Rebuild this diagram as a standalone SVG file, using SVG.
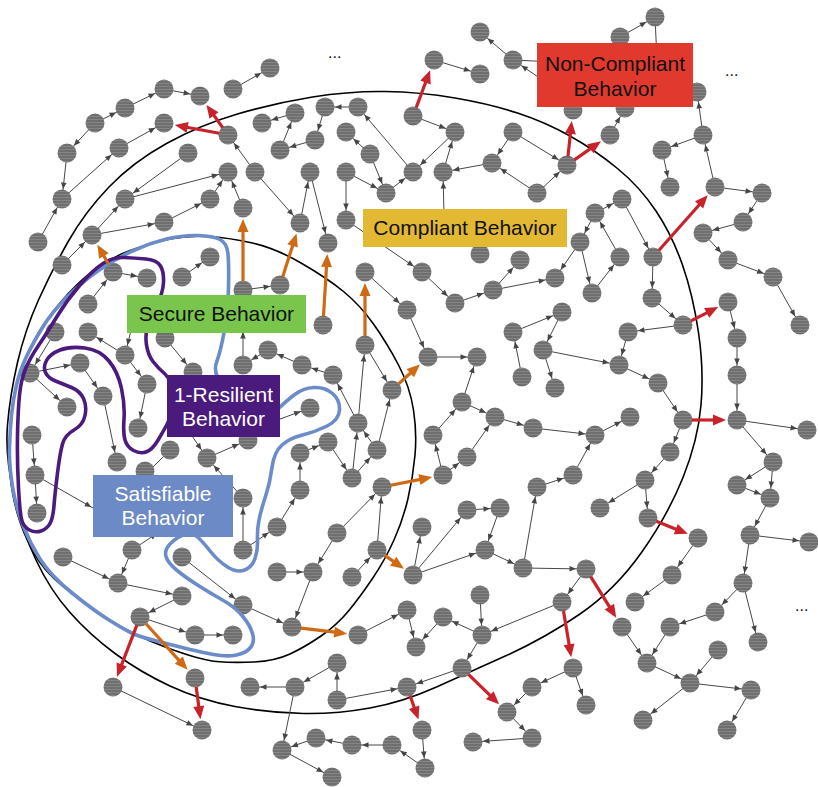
<svg xmlns="http://www.w3.org/2000/svg" width="818" height="787" viewBox="0 0 818 787">
<defs>
<pattern id="st" width="6" height="3" patternUnits="userSpaceOnUse"><rect width="6" height="3" fill="#6f6f6f"/><rect y="2" width="6" height="1" fill="#858585"/></pattern>
<marker id="a" markerUnits="userSpaceOnUse" markerWidth="10" markerHeight="10" refX="10" refY="0" orient="auto" overflow="visible" style="overflow:visible"><path d="M-6.5,-2.8L0,0L-6.5,2.8Z" fill="#454545"/></marker>
<marker id="r" markerUnits="userSpaceOnUse" markerWidth="14" markerHeight="12" refX="0" refY="0" orient="auto" overflow="visible" style="overflow:visible"><path d="M-5,-5.5L8,0L-5,5.5Z" fill="#c8232b"/></marker>
<marker id="o" markerUnits="userSpaceOnUse" markerWidth="14" markerHeight="12" refX="0" refY="0" orient="auto" overflow="visible" style="overflow:visible"><path d="M-5,-5.5L8,0L-5,5.5Z" fill="#cf6914"/></marker>
<style>
.n circle{fill:url(#st)}
.e path{fill:none;stroke:#474747;stroke-width:1;marker-end:url(#a)}
.red path{fill:none;stroke:#c8232b;stroke-width:3.2;marker-end:url(#r)}
.org path{fill:none;stroke:#cf6914;stroke-width:3.2;marker-end:url(#o)}
.ring{fill:none;stroke:#000;stroke-width:1.6}
.t{font-family:"Liberation Sans",Arial,Helvetica,sans-serif;font-size:21px;text-anchor:middle}
.dots{font-family:"Liberation Sans",Arial,sans-serif;font-size:16px;fill:#111}
</style>
</defs>
<rect width="818" height="787" fill="#fff"/>
<g id="regions">
<path class="ring" d="M7.5,425 Q10,395 17.5,362.5 Q25,330 38.5,300 Q52,270 68.5,241 Q85,212 109,187 Q133,162 166.5,143.5 Q200,125 237.5,114 Q275,103 312.5,97 Q350,91 385,91.5 Q420,92 455,98 Q490,104 517.5,113 Q545,122 570,136 Q595,150 617.5,168.5 Q640,187 656,211 Q672,235 682.5,265 Q693,295 698.5,332.5 Q704,370 701,405 Q698,440 683,477.5 Q668,515 641.5,552.5 Q615,590 580,614 Q545,638 507.5,655 Q470,672 436.5,687 Q403,702 370,708 Q337,714 303.5,713.5 Q270,713 235,706.5 Q200,700 170,686 Q140,672 115,653.5 Q90,635 70,612.5 Q50,590 36,560 Q22,530 13.5,492.5 Q5,455 7.5,425 Z"/>
<path class="ring" d="M10.5,430 Q12,400 18,380 Q24,360 33.5,341.5 Q43,323 60,303 Q77,283 93.5,270.5 Q110,258 130,250.5 Q150,243 170,239 Q190,235 210,236.5 Q230,238 252.5,243 Q275,248 301,263 Q327,278 343.5,291.5 Q360,305 373.5,324 Q387,343 398.5,365 Q410,387 413.5,410 Q417,433 415,455 Q413,477 408,498.5 Q403,520 394,540 Q385,560 372.5,578.5 Q360,597 348.5,611 Q337,625 321,636 Q305,647 290,654 Q275,661 254,662 Q233,663 216.5,661.5 Q200,660 166.5,647.5 Q133,635 108,619 Q83,603 63,586.5 Q43,570 33,551.5 Q23,533 17.5,514 Q12,495 10.5,477.5 Q9,460 10.5,430 Z"/>
</g>
<g id="connectors" class="e">
<path d="M233 89L270 68"/><path d="M164 89L200 96"/><path d="M125 108L164 89"/><path d="M95 123L125 108"/><path d="M95 123L67 153"/><path d="M67 153L62 199"/><path d="M38 242L62 199"/><path d="M119 148L164 123"/><path d="M62 199L119 148"/><path d="M188 153L125 199"/><path d="M125 199L228 172"/><path d="M255 172L228 135"/><path d="M210 199L228 172"/><path d="M243 208L228 172"/><path d="M92 235L125 199"/><path d="M92 235L164 222"/><path d="M164 222L210 199"/><path d="M62 265L92 235"/><path d="M88 304L113 272"/><path d="M113 272L147 278"/><path d="M182 277L210 257"/><path d="M125 355L88 332"/><path d="M55 332L30 373"/><path d="M30 373L80 363"/><path d="M30 373L67 407"/><path d="M80 363L103 396"/><path d="M125 355L147 384"/><path d="M147 384L138 428"/><path d="M165 338L193 372"/><path d="M103 396L117 462"/><path d="M243 365L243 322"/><path d="M268 350L243 365"/><path d="M243 290L280 285"/><path d="M35 475L37 513"/><path d="M32 435L35 475"/><path d="M35 475L100 512"/><path d="M207 458L248 440"/><path d="M188 430L207 458"/><path d="M243 498L207 458"/><path d="M133 322L125 355"/><path d="M170 450L140 480"/>
<path d="M295 113L262 123"/><path d="M280 150L295 113"/><path d="M358 107L325 107"/><path d="M325 107L315 140"/><path d="M315 140L280 150"/><path d="M370 154L346 132"/><path d="M300 223L310 172"/><path d="M310 172L328 243"/><path d="M255 172L300 223"/><path d="M346 172L346 220"/><path d="M346 172L386 193"/><path d="M370 154L386 193"/><path d="M386 193L413 172"/><path d="M413 172L358 107"/><path d="M455 132L413 172"/><path d="M413 116L455 132"/><path d="M443 172L455 132"/><path d="M492 163L443 172"/><path d="M513 132L492 163"/><path d="M537 193L492 163"/><path d="M513 132L567 165"/><path d="M537 193L567 165"/><path d="M434 60L480 74"/><path d="M513 60L480 32"/><path d="M513 60L555 62"/><path d="M550 85L513 60"/><path d="M346 220L422 272"/><path d="M444 215L443 172"/>
<path d="M365 272L407 310"/><path d="M422 272L455 303"/><path d="M455 303L493 290"/><path d="M493 290L520 260"/><path d="M493 290L555 278"/><path d="M407 310L428 357"/><path d="M428 357L477 357"/><path d="M302 365L268 350"/><path d="M333 375L302 365"/><path d="M358 423L365 345"/><path d="M358 423L333 375"/><path d="M377 450L392 390"/><path d="M377 450L358 423"/><path d="M352 478L358 423"/><path d="M352 478L377 450"/><path d="M328 442L352 478"/><path d="M300 453L328 442"/><path d="M300 490L300 453"/><path d="M277 527L300 490"/><path d="M337 533L382 487"/><path d="M377 550L382 487"/><path d="M462 402L477 357"/><path d="M462 402L495 417"/><path d="M433 435L462 402"/><path d="M443 475L433 435"/><path d="M467 457L495 417"/><path d="M443 475L467 457"/><path d="M495 417L533 428"/><path d="M533 428L595 435"/><path d="M365 345L392 390"/><path d="M513 332L562 312"/><path d="M522 377L513 332"/><path d="M562 312L543 350"/><path d="M543 350L619 365"/><path d="M543 350L555 388"/><path d="M580 242L555 278"/><path d="M580 242L592 293"/><path d="M592 293L620 257"/><path d="M595 213L622 199"/><path d="M595 213L580 242"/><path d="M620 257L595 213"/><path d="M622 199L653 257"/><path d="M610 135L625 108"/><path d="M620 37L655 17"/><path d="M655 17L657 60"/>
<path d="M703 135L697 92"/><path d="M703 135L662 150"/><path d="M662 150L670 187"/><path d="M715 187L703 135"/><path d="M715 187L762 193"/><path d="M762 193L743 222"/><path d="M743 222L703 233"/><path d="M703 233L728 260"/><path d="M728 260L773 277"/><path d="M773 277L800 325"/><path d="M728 302L737 338"/><path d="M737 338L737 375"/><path d="M737 375L737 420"/><path d="M737 420L807 430"/><path d="M737 420L773 462"/><path d="M773 462L737 485"/><path d="M737 485L770 498"/><path d="M773 462L770 498"/><path d="M653 257L652 298"/><path d="M652 298L683 325"/><path d="M683 325L628 332"/><path d="M628 332L619 365"/><path d="M619 365L658 383"/><path d="M658 383L683 420"/><path d="M683 420L670 452"/><path d="M670 452L645 480"/><path d="M645 480L600 508"/><path d="M645 480L648 518"/><path d="M595 435L630 417"/><path d="M573 475L595 435"/><path d="M537 487L573 475"/><path d="M523 568L537 487"/><path d="M272 422L310 408"/>
<path d="M63 557L118 583"/><path d="M132 550L118 583"/><path d="M132 550L165 528"/><path d="M118 583L182 596"/><path d="M182 596L140 617"/><path d="M140 617L195 635"/><path d="M195 635L233 635"/><path d="M113 687L202 730"/><path d="M182 557L243 605"/><path d="M243 550L243 498"/><path d="M243 550L277 527"/><path d="M243 605L292 627"/><path d="M277 572L313 572"/><path d="M337 533L313 572"/><path d="M313 572L292 627"/><path d="M358 635L407 610"/><path d="M407 610L416 647"/><path d="M443 617L416 647"/><path d="M480 595L482 635"/><path d="M482 635L443 617"/><path d="M562 602L482 635"/><path d="M482 635L462 668"/><path d="M462 668L407 687"/><path d="M337 700L407 687"/><path d="M337 700L337 663"/><path d="M337 663L295 687"/><path d="M295 687L250 687"/><path d="M295 687L282 750"/><path d="M316 738L282 750"/><path d="M352 745L316 738"/><path d="M392 745L352 745"/><path d="M425 768L392 745"/><path d="M282 750L332 777"/><path d="M422 730L425 768"/><path d="M532 687L507 712"/><path d="M507 712L532 738"/><path d="M532 738L473 742"/><path d="M573 668L532 687"/><path d="M573 668L586 705"/><path d="M352 577L377 550"/><path d="M413 575L422 527"/><path d="M413 575L467 510"/><path d="M413 575L485 550"/><path d="M467 510L500 508"/><path d="M500 508L485 550"/><path d="M485 550L523 568"/><path d="M523 568L586 569"/><path d="M586 569L562 602"/><path d="M698 538L672 575"/><path d="M672 575L635 602"/><path d="M770 498L750 535"/><path d="M750 535L809 542"/><path d="M750 535L743 583"/><path d="M743 583L715 612"/><path d="M743 583L758 642"/><path d="M715 612L670 627"/><path d="M622 627L647 663"/><path d="M670 627L647 663"/><path d="M647 663L690 683"/><path d="M718 650L690 683"/><path d="M690 683L751 690"/><path d="M751 690L727 730"/><path d="M690 683L643 720"/>
</g>
<g id="nodes" class="n">
<g id="n1"><circle cx="270" cy="68" r="9.5"/></g><g id="n2"><circle cx="233" cy="89" r="9.5"/></g><g id="n3"><circle cx="164" cy="89" r="9.5"/></g><g id="n4"><circle cx="200" cy="96" r="9.5"/></g><g id="n5"><circle cx="125" cy="108" r="9.5"/></g><g id="n6"><circle cx="95" cy="123" r="9.5"/></g><g id="n7"><circle cx="67" cy="153" r="9.5"/></g><g id="n8"><circle cx="62" cy="199" r="9.5"/></g><g id="n9"><circle cx="38" cy="242" r="9.5"/></g><g id="n10"><circle cx="164" cy="123" r="9.5"/></g>
<g id="n11"><circle cx="119" cy="148" r="9.5"/></g><g id="n12"><circle cx="228" cy="135" r="9.5"/></g><g id="n13"><circle cx="262" cy="123" r="9.5"/></g><g id="n14"><circle cx="188" cy="153" r="9.5"/></g><g id="n15"><circle cx="125" cy="199" r="9.5"/></g><g id="n16"><circle cx="228" cy="172" r="9.5"/></g><g id="n17"><circle cx="255" cy="172" r="9.5"/></g><g id="n18"><circle cx="210" cy="199" r="9.5"/></g><g id="n19"><circle cx="243" cy="208" r="9.5"/></g><g id="n20"><circle cx="92" cy="235" r="9.5"/></g>
<g id="n21"><circle cx="164" cy="222" r="9.5"/></g><g id="n22"><circle cx="210" cy="257" r="9.5"/></g><g id="n23"><circle cx="62" cy="265" r="9.5"/></g><g id="n24"><circle cx="113" cy="272" r="9.5"/></g><g id="n25"><circle cx="147" cy="278" r="9.5"/></g><g id="n26"><circle cx="182" cy="277" r="9.5"/></g><g id="n27"><circle cx="88" cy="304" r="9.5"/></g><g id="n28"><circle cx="88" cy="332" r="9.5"/></g><g id="n29"><circle cx="55" cy="332" r="9.5"/></g><g id="n30"><circle cx="125" cy="355" r="9.5"/></g>
<g id="n31"><circle cx="165" cy="338" r="9.5"/></g><g id="n32"><circle cx="30" cy="373" r="9.5"/></g><g id="n33"><circle cx="80" cy="363" r="9.5"/></g><g id="n34"><circle cx="103" cy="396" r="9.5"/></g><g id="n35"><circle cx="67" cy="407" r="9.5"/></g><g id="n36"><circle cx="147" cy="384" r="9.5"/></g><g id="n37"><circle cx="138" cy="428" r="9.5"/></g><g id="n38"><circle cx="193" cy="372" r="9.5"/></g><g id="n39"><circle cx="243" cy="290" r="9.5"/></g><g id="n40"><circle cx="280" cy="285" r="9.5"/></g>
<g id="n41"><circle cx="243" cy="365" r="9.5"/></g><g id="n42"><circle cx="268" cy="350" r="9.5"/></g><g id="n43"><circle cx="117" cy="462" r="9.5"/></g><g id="n44"><circle cx="170" cy="450" r="9.5"/></g><g id="n45"><circle cx="207" cy="458" r="9.5"/></g><g id="n46"><circle cx="248" cy="440" r="9.5"/></g><g id="n47"><circle cx="32" cy="435" r="9.5"/></g><g id="n48"><circle cx="35" cy="475" r="9.5"/></g><g id="n49"><circle cx="37" cy="513" r="9.5"/></g><g id="n50"><circle cx="243" cy="498" r="9.5"/></g>
<g id="n51"><circle cx="145" cy="471" r="9.5"/></g><g id="n52"><circle cx="295" cy="113" r="9.5"/></g><g id="n53"><circle cx="280" cy="150" r="9.5"/></g><g id="n54"><circle cx="325" cy="107" r="9.5"/></g><g id="n55"><circle cx="358" cy="107" r="9.5"/></g><g id="n56"><circle cx="315" cy="140" r="9.5"/></g><g id="n57"><circle cx="346" cy="132" r="9.5"/></g><g id="n58"><circle cx="370" cy="154" r="9.5"/></g><g id="n59"><circle cx="310" cy="172" r="9.5"/></g><g id="n60"><circle cx="300" cy="223" r="9.5"/></g>
<g id="n61"><circle cx="328" cy="243" r="9.5"/></g><g id="n62"><circle cx="346" cy="172" r="9.5"/></g><g id="n63"><circle cx="346" cy="220" r="9.5"/></g><g id="n64"><circle cx="386" cy="193" r="9.5"/></g><g id="n65"><circle cx="413" cy="172" r="9.5"/></g><g id="n66"><circle cx="413" cy="116" r="9.5"/></g><g id="n67"><circle cx="455" cy="132" r="9.5"/></g><g id="n68"><circle cx="443" cy="172" r="9.5"/></g><g id="n69"><circle cx="492" cy="163" r="9.5"/></g><g id="n70"><circle cx="513" cy="132" r="9.5"/></g>
<g id="n71"><circle cx="537" cy="193" r="9.5"/></g><g id="n72"><circle cx="434" cy="60" r="9.5"/></g><g id="n73"><circle cx="480" cy="74" r="9.5"/></g><g id="n74"><circle cx="480" cy="32" r="9.5"/></g><g id="n75"><circle cx="513" cy="60" r="9.5"/></g><g id="n76"><circle cx="422" cy="272" r="9.5"/></g><g id="n77"><circle cx="365" cy="272" r="9.5"/></g><g id="n78"><circle cx="455" cy="303" r="9.5"/></g><g id="n79"><circle cx="493" cy="290" r="9.5"/></g><g id="n80"><circle cx="520" cy="260" r="9.5"/></g>
<g id="n81"><circle cx="407" cy="310" r="9.5"/></g><g id="n82"><circle cx="428" cy="357" r="9.5"/></g><g id="n83"><circle cx="477" cy="357" r="9.5"/></g><g id="n84"><circle cx="323" cy="325" r="9.5"/></g><g id="n85"><circle cx="365" cy="345" r="9.5"/></g><g id="n86"><circle cx="392" cy="390" r="9.5"/></g><g id="n87"><circle cx="302" cy="365" r="9.5"/></g><g id="n88"><circle cx="333" cy="375" r="9.5"/></g><g id="n89"><circle cx="358" cy="423" r="9.5"/></g><g id="n90"><circle cx="310" cy="408" r="9.5"/></g>
<g id="n91"><circle cx="377" cy="450" r="9.5"/></g><g id="n92"><circle cx="352" cy="478" r="9.5"/></g><g id="n93"><circle cx="328" cy="442" r="9.5"/></g><g id="n94"><circle cx="300" cy="453" r="9.5"/></g><g id="n95"><circle cx="300" cy="490" r="9.5"/></g><g id="n96"><circle cx="382" cy="487" r="9.5"/></g><g id="n97"><circle cx="433" cy="435" r="9.5"/></g><g id="n98"><circle cx="462" cy="402" r="9.5"/></g><g id="n99"><circle cx="495" cy="417" r="9.5"/></g><g id="n100"><circle cx="467" cy="457" r="9.5"/></g>
<g id="n101"><circle cx="443" cy="475" r="9.5"/></g><g id="n102"><circle cx="533" cy="428" r="9.5"/></g><g id="n103"><circle cx="513" cy="332" r="9.5"/></g><g id="n104"><circle cx="522" cy="377" r="9.5"/></g><g id="n105"><circle cx="543" cy="350" r="9.5"/></g><g id="n106"><circle cx="562" cy="312" r="9.5"/></g><g id="n107"><circle cx="555" cy="388" r="9.5"/></g><g id="n108"><circle cx="555" cy="278" r="9.5"/></g><g id="n109"><circle cx="592" cy="293" r="9.5"/></g><g id="n110"><circle cx="620" cy="257" r="9.5"/></g>
<g id="n111"><circle cx="580" cy="242" r="9.5"/></g><g id="n112"><circle cx="595" cy="213" r="9.5"/></g><g id="n113"><circle cx="622" cy="199" r="9.5"/></g><g id="n114"><circle cx="653" cy="257" r="9.5"/></g><g id="n115"><circle cx="567" cy="165" r="9.5"/></g><g id="n116"><circle cx="610" cy="135" r="9.5"/></g><g id="n117"><circle cx="625" cy="108" r="9.5"/></g><g id="n118"><circle cx="573" cy="110" r="9.5"/></g><g id="n119"><circle cx="620" cy="37" r="9.5"/></g><g id="n120"><circle cx="655" cy="17" r="9.5"/></g>
<g id="n121"><circle cx="697" cy="92" r="9.5"/></g><g id="n122"><circle cx="703" cy="135" r="9.5"/></g><g id="n123"><circle cx="662" cy="150" r="9.5"/></g><g id="n124"><circle cx="670" cy="187" r="9.5"/></g><g id="n125"><circle cx="715" cy="187" r="9.5"/></g><g id="n126"><circle cx="762" cy="193" r="9.5"/></g><g id="n127"><circle cx="743" cy="222" r="9.5"/></g><g id="n128"><circle cx="703" cy="233" r="9.5"/></g><g id="n129"><circle cx="728" cy="260" r="9.5"/></g><g id="n130"><circle cx="773" cy="277" r="9.5"/></g>
<g id="n131"><circle cx="800" cy="325" r="9.5"/></g><g id="n132"><circle cx="728" cy="302" r="9.5"/></g><g id="n133"><circle cx="737" cy="338" r="9.5"/></g><g id="n134"><circle cx="737" cy="375" r="9.5"/></g><g id="n135"><circle cx="737" cy="420" r="9.5"/></g><g id="n136"><circle cx="807" cy="430" r="9.5"/></g><g id="n137"><circle cx="773" cy="462" r="9.5"/></g><g id="n138"><circle cx="737" cy="485" r="9.5"/></g><g id="n139"><circle cx="770" cy="498" r="9.5"/></g><g id="n140"><circle cx="652" cy="298" r="9.5"/></g>
<g id="n141"><circle cx="683" cy="325" r="9.5"/></g><g id="n142"><circle cx="628" cy="332" r="9.5"/></g><g id="n143"><circle cx="619" cy="365" r="9.5"/></g><g id="n144"><circle cx="658" cy="383" r="9.5"/></g><g id="n145"><circle cx="683" cy="420" r="9.5"/></g><g id="n146"><circle cx="670" cy="452" r="9.5"/></g><g id="n147"><circle cx="645" cy="480" r="9.5"/></g><g id="n148"><circle cx="600" cy="508" r="9.5"/></g><g id="n149"><circle cx="648" cy="518" r="9.5"/></g><g id="n150"><circle cx="630" cy="417" r="9.5"/></g>
<g id="n151"><circle cx="595" cy="435" r="9.5"/></g><g id="n152"><circle cx="573" cy="475" r="9.5"/></g><g id="n153"><circle cx="537" cy="487" r="9.5"/></g><g id="n154"><circle cx="480" cy="254" r="9.5"/></g><g id="n155"><circle cx="63" cy="557" r="9.5"/></g><g id="n156"><circle cx="132" cy="550" r="9.5"/></g><g id="n157"><circle cx="118" cy="583" r="9.5"/></g><g id="n158"><circle cx="182" cy="596" r="9.5"/></g><g id="n159"><circle cx="140" cy="617" r="9.5"/></g><g id="n160"><circle cx="195" cy="635" r="9.5"/></g>
<g id="n161"><circle cx="233" cy="635" r="9.5"/></g><g id="n162"><circle cx="113" cy="687" r="9.5"/></g><g id="n163"><circle cx="195" cy="678" r="9.5"/></g><g id="n164"><circle cx="202" cy="730" r="9.5"/></g><g id="n165"><circle cx="182" cy="557" r="9.5"/></g><g id="n166"><circle cx="243" cy="605" r="9.5"/></g><g id="n167"><circle cx="243" cy="550" r="9.5"/></g><g id="n168"><circle cx="277" cy="527" r="9.5"/></g><g id="n169"><circle cx="277" cy="572" r="9.5"/></g><g id="n170"><circle cx="313" cy="572" r="9.5"/></g>
<g id="n171"><circle cx="337" cy="533" r="9.5"/></g><g id="n172"><circle cx="292" cy="627" r="9.5"/></g><g id="n173"><circle cx="358" cy="635" r="9.5"/></g><g id="n174"><circle cx="407" cy="610" r="9.5"/></g><g id="n175"><circle cx="416" cy="647" r="9.5"/></g><g id="n176"><circle cx="443" cy="617" r="9.5"/></g><g id="n177"><circle cx="480" cy="595" r="9.5"/></g><g id="n178"><circle cx="482" cy="635" r="9.5"/></g><g id="n179"><circle cx="462" cy="668" r="9.5"/></g><g id="n180"><circle cx="407" cy="687" r="9.5"/></g>
<g id="n181"><circle cx="507" cy="712" r="9.5"/></g><g id="n182"><circle cx="422" cy="730" r="9.5"/></g><g id="n183"><circle cx="425" cy="768" r="9.5"/></g><g id="n184"><circle cx="392" cy="745" r="9.5"/></g><g id="n185"><circle cx="352" cy="745" r="9.5"/></g><g id="n186"><circle cx="316" cy="738" r="9.5"/></g><g id="n187"><circle cx="282" cy="750" r="9.5"/></g><g id="n188"><circle cx="332" cy="777" r="9.5"/></g><g id="n189"><circle cx="295" cy="687" r="9.5"/></g><g id="n190"><circle cx="337" cy="663" r="9.5"/></g>
<g id="n191"><circle cx="337" cy="700" r="9.5"/></g><g id="n192"><circle cx="250" cy="687" r="9.5"/></g><g id="n193"><circle cx="532" cy="687" r="9.5"/></g><g id="n194"><circle cx="532" cy="738" r="9.5"/></g><g id="n195"><circle cx="473" cy="742" r="9.5"/></g><g id="n196"><circle cx="377" cy="550" r="9.5"/></g><g id="n197"><circle cx="352" cy="577" r="9.5"/></g><g id="n198"><circle cx="413" cy="575" r="9.5"/></g><g id="n199"><circle cx="422" cy="527" r="9.5"/></g><g id="n200"><circle cx="467" cy="510" r="9.5"/></g>
<g id="n201"><circle cx="500" cy="508" r="9.5"/></g><g id="n202"><circle cx="485" cy="550" r="9.5"/></g><g id="n203"><circle cx="523" cy="568" r="9.5"/></g><g id="n204"><circle cx="586" cy="569" r="9.5"/></g><g id="n205"><circle cx="562" cy="602" r="9.5"/></g><g id="n206"><circle cx="573" cy="668" r="9.5"/></g><g id="n207"><circle cx="586" cy="705" r="9.5"/></g><g id="n208"><circle cx="622" cy="627" r="9.5"/></g><g id="n209"><circle cx="698" cy="538" r="9.5"/></g><g id="n210"><circle cx="750" cy="535" r="9.5"/></g>
<g id="n211"><circle cx="809" cy="542" r="9.5"/></g><g id="n212"><circle cx="672" cy="575" r="9.5"/></g><g id="n213"><circle cx="635" cy="602" r="9.5"/></g><g id="n214"><circle cx="743" cy="583" r="9.5"/></g><g id="n215"><circle cx="715" cy="612" r="9.5"/></g><g id="n216"><circle cx="758" cy="642" r="9.5"/></g><g id="n217"><circle cx="670" cy="627" r="9.5"/></g><g id="n218"><circle cx="647" cy="663" r="9.5"/></g><g id="n219"><circle cx="690" cy="683" r="9.5"/></g><g id="n220"><circle cx="718" cy="650" r="9.5"/></g>
<g id="n221"><circle cx="751" cy="690" r="9.5"/></g><g id="n222"><circle cx="727" cy="730" r="9.5"/></g><g id="n223"><circle cx="643" cy="720" r="9.5"/></g>
</g>
<g id="outlines" fill="none" stroke-linejoin="round">
<path stroke="#6b8bc9" stroke-width="3.6" d="M11.5,415 Q13,400 16.5,385 Q20,370 26.5,356.5 Q33,343 42.5,327.5 Q52,312 67.5,296.5 Q83,281 100,269.5 Q117,258 133.5,250.5 Q150,243 166.5,239 Q183,235 198,235.5 Q213,236 220,239.5 Q227,243 228,254 Q229,265 228.5,287.5 Q228,310 224.5,330 Q221,350 216.5,362.5 Q212,375 226,387.5 Q240,400 256,407.5 Q272,415 278.5,408.5 Q285,402 294,395 Q303,388 314,387.5 Q325,387 332.5,393.5 Q340,400 339.5,410 Q339,420 327,426 Q315,432 302.5,435 Q290,438 282,445 Q274,452 272,467.5 Q270,483 265.5,496.5 Q261,510 259,520 Q257,530 257.5,540 Q258,550 255,558.5 Q252,567 244.5,570 Q237,573 227.5,567 Q218,561 210.5,551.5 Q203,542 197.5,537 Q192,532 184.5,534.5 Q177,537 170.5,543.5 Q164,550 166,556.5 Q168,563 176.5,570 Q185,577 197.5,585 Q210,593 222.5,600 Q235,607 242.5,616 Q250,625 252.5,633.5 Q255,642 250.5,647.5 Q246,653 236.5,655 Q227,657 213.5,654.5 Q200,652 170,644.5 Q140,637 132.5,633.5 Q125,630 109,620 Q93,610 71.5,592.5 Q50,575 40,559 Q30,543 23,525.5 Q16,508 12.5,486.5 Q9,465 9.5,447.5 Q10,430 11.5,415 Z"/>
<path stroke="#4a1b7c" stroke-width="3.6" d="M18.5,487.5 Q17,460 17.5,435 Q18,410 19.5,395 Q21,380 25.5,369 Q30,358 38.5,345.5 Q47,333 57,316.5 Q67,300 80,285 Q93,270 103,263.5 Q113,257 124,257.5 Q135,258 146,259 Q157,260 160.5,266 Q164,272 163.5,282.5 Q163,293 156.5,305.5 Q150,318 147.5,326.5 Q145,335 146.5,345 Q148,355 153,361.5 Q158,368 165,374 Q172,380 172,397.5 Q172,415 167.5,423.5 Q163,432 157.5,441 Q152,450 146,452 Q140,454 133.5,450.5 Q127,447 125,440 Q123,433 124,419 Q125,405 121.5,388.5 Q118,372 109,361 Q100,350 85,348 Q70,346 60,350 Q50,354 46.5,360.5 Q43,367 45.5,372.5 Q48,378 55.5,381 Q63,384 71.5,387.5 Q80,391 83.5,398.5 Q87,406 85,415.5 Q83,425 74,430 Q65,435 62.5,444 Q60,453 57.5,473 Q55,493 54,505.5 Q53,518 50,523.5 Q47,529 41,531 Q35,533 29.5,530 Q24,527 22,521 Q20,515 18.5,487.5 Z"/>
</g>
<g id="transitions">
<g class="red">
<path d="M219.2 133.3L182.7 126.5"/><path d="M222.8 127.7L211.1 111.4"/><path d="M416.2 107.6L427.3 77.8"/><path d="M568 156.1L570.9 128.9"/><path d="M574.4 159.9L594.4 145.9"/><path d="M659 250.3L702.4 201.2"/><path d="M691 320.9L711.1 310.6"/><path d="M692 420L718 420"/><path d="M656.4 521.3L680.4 530.9"/><path d="M590.7 576.6L612 610.9"/><path d="M563.5 610.9L569.9 649.3"/><path d="M468.4 674.3L493.4 698.7"/><path d="M410 695.5L415.8 712"/><path d="M136.8 625.4L119.9 669.2"/><path d="M196.2 686.9L199.4 711.2"/>
</g>
<g class="org">
<path d="M108.6 264.2L101.4 251.6"/><path d="M243 281L243 227"/><path d="M282.8 276.4L294.1 241.1"/><path d="M323.5 316L326.8 262"/><path d="M365 336L365 291"/><path d="M398.6 383.9L414 369.8"/><path d="M390.8 485.3L424.4 478.6"/><path d="M384.4 555.1L397.4 564.1"/><path d="M300.9 628.1L339.2 632.7"/><path d="M146 623.7L182.2 663.9"/>
</g>
</g>
<g id="label-noncompliant"><rect x="537" y="43" width="156" height="64" fill="#e2392e"/><text class="t" x="615" y="71" fill="#111">Non-Compliant</text><text class="t" x="615" y="96" fill="#111">Behavior</text></g>
<g id="label-compliant"><rect x="363" y="209" width="204" height="38" fill="#e3b832"/><text class="t" x="465" y="235" fill="#111">Compliant Behavior</text></g>
<g id="label-secure"><rect x="127" y="295" width="179" height="38" fill="#7ac54b"/><text class="t" x="216.5" y="321" fill="#111">Secure Behavior</text></g>
<g id="label-resilient"><rect x="167" y="375" width="113" height="62" fill="#4a1b7c"/><text class="t" x="223.5" y="402" fill="#fff">1-Resilient</text><text class="t" x="223.5" y="426" fill="#fff">Behavior</text></g>
<g id="label-satisfiable"><rect x="93" y="475" width="140" height="62" fill="#6c8ac6"/><text class="t" x="163" y="501" fill="#fff">Satisfiable</text><text class="t" x="163" y="525" fill="#fff">Behavior</text></g>
<g id="ellipses"><text class="dots" x="328" y="58">...</text><text class="dots" x="725" y="76">...</text><text class="dots" x="795" y="611">...</text></g>
</svg>
